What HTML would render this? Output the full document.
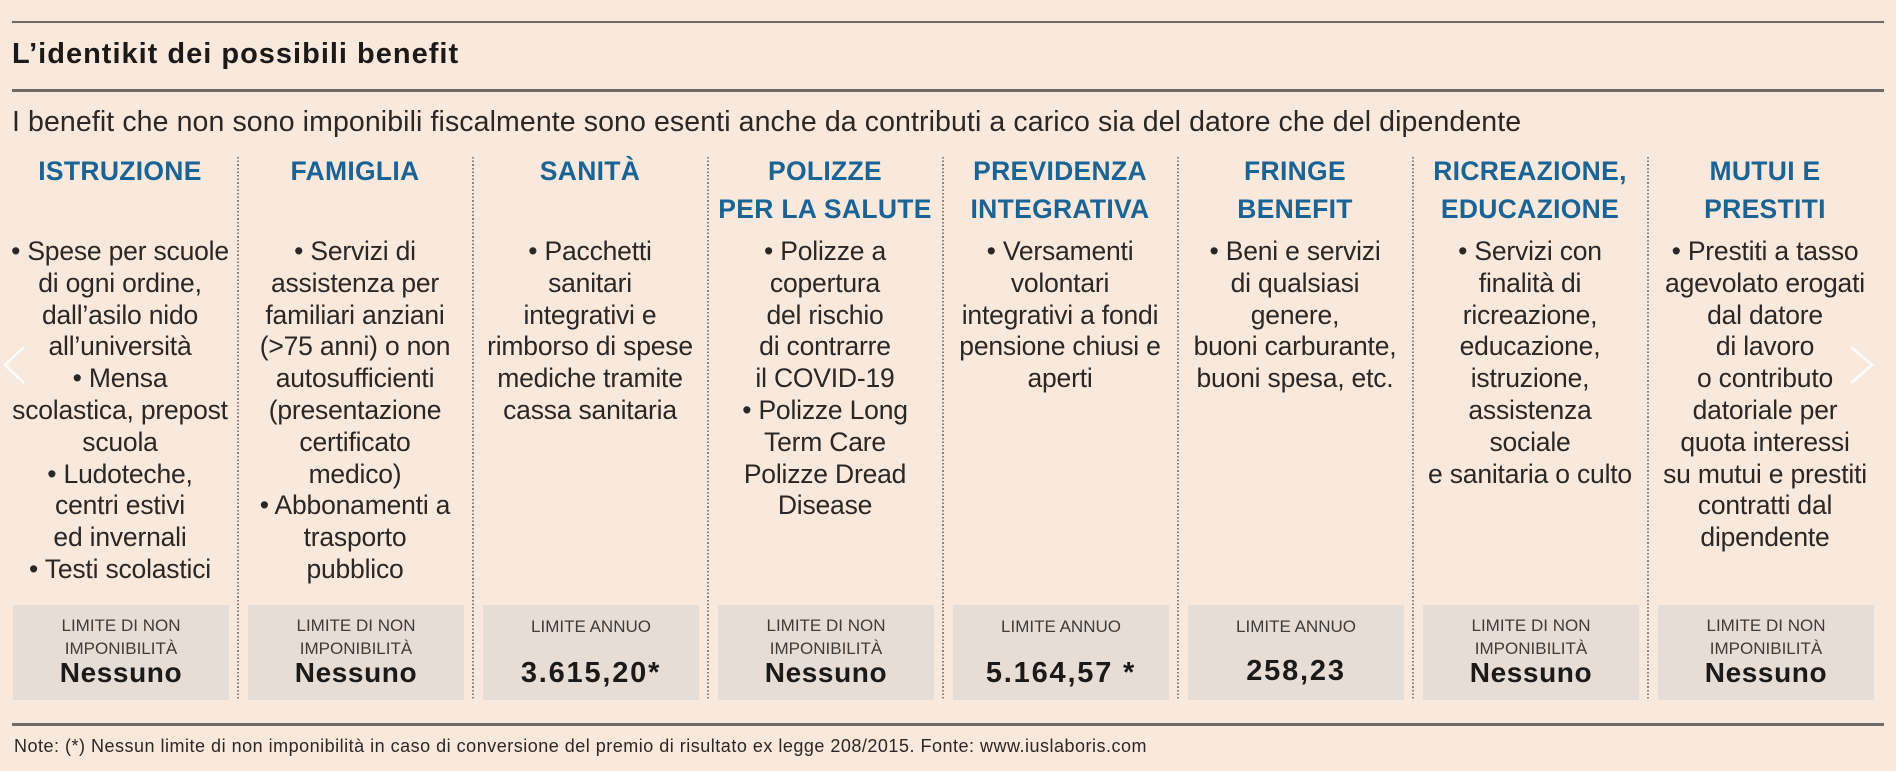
<!DOCTYPE html>
<html>
<head>
<meta charset="utf-8">
<style>
  html, body { margin:0; padding:0; }
  body { width:1896px; height:771px; background:#f9e9dc; position:relative; overflow:hidden;
         font-family:"Liberation Sans", Arial, sans-serif; color:#2a2724; }
  .abs { position:absolute; }
  .rule { position:absolute; left:12px; width:1872px; background:#716a64; }
  .title { position:absolute; left:12px; top:40px; font-size:29px; line-height:1; font-weight:bold; letter-spacing:1px; color:#1c1a19; white-space:nowrap; }
  .sub { position:absolute; left:12px; top:108px; font-size:28.5px; line-height:1; letter-spacing:0.1px; color:#2a2724; white-space:nowrap; }
  .hdr { position:absolute; top:153px; width:280px; text-align:center; font-size:26.5px; line-height:37.5px; font-weight:bold; color:#1a6395; letter-spacing:0.3px; white-space:nowrap; }
  .body { position:absolute; top:236px; width:280px; text-align:center; font-size:26.5px; line-height:31.8px; letter-spacing:-0.2px; color:#2a2724; white-space:nowrap; }
  .div { position:absolute; top:157px; height:543px; width:2px;
         background:repeating-linear-gradient(to bottom, #8a827b 0 1.6px, transparent 1.6px 3.6px); }
  .box { position:absolute; top:605px; height:95px; width:216px; background:#e7ddd7; }
  .lbl { position:absolute; left:0; width:216px; text-align:center; font-size:17px; line-height:1; color:#3f3b38; white-space:nowrap; }
  .val { position:absolute; left:0; width:216px; text-align:center; font-size:28px; line-height:1; font-weight:bold; color:#1c1a19; white-space:nowrap; letter-spacing:0.6px; }
  .num { font-size:29px; letter-spacing:1.8px; }
  .note { position:absolute; left:14px; top:737px; font-size:18px; line-height:1; letter-spacing:0.5px; color:#2a2724; white-space:nowrap; }
</style>
</head>
<body>

<div class="rule" style="top:21px;height:2px;"></div>
<div class="title">L’identikit dei possibili benefit</div>
<div class="rule" style="top:89px;height:2.5px;"></div>
<div class="sub">I benefit che non sono imponibili fiscalmente sono esenti anche da contributi a carico sia del datore che del dipendente</div>

<!-- dividers -->
<div class="div" style="left:237px;"></div>
<div class="div" style="left:472px;"></div>
<div class="div" style="left:707px;"></div>
<div class="div" style="left:942px;"></div>
<div class="div" style="left:1177px;"></div>
<div class="div" style="left:1412px;"></div>
<div class="div" style="left:1647px;"></div>

<!-- headers -->
<div class="hdr" style="left:-20px;">ISTRUZIONE</div>
<div class="hdr" style="left:215px;">FAMIGLIA</div>
<div class="hdr" style="left:450px;">SANITÀ</div>
<div class="hdr" style="left:685px;">POLIZZE<br>PER LA SALUTE</div>
<div class="hdr" style="left:920px;">PREVIDENZA<br>INTEGRATIVA</div>
<div class="hdr" style="left:1155px;">FRINGE<br>BENEFIT</div>
<div class="hdr" style="left:1390px;">RICREAZIONE,<br>EDUCAZIONE</div>
<div class="hdr" style="left:1625px;">MUTUI E<br>PRESTITI</div>

<!-- bodies -->
<div class="body" style="left:-20px;">• Spese per scuole<br>di ogni ordine,<br>dall’asilo nido<br>all’università<br>• Mensa<br>scolastica, prepost<br>scuola<br>• Ludoteche,<br>centri estivi<br>ed invernali<br>• Testi scolastici</div>
<div class="body" style="left:215px;">• Servizi di<br>assistenza per<br>familiari anziani<br>(&gt;75 anni) o non<br>autosufficienti<br>(presentazione<br>certificato<br>medico)<br>• Abbonamenti a<br>trasporto<br>pubblico</div>
<div class="body" style="left:450px;">• Pacchetti<br>sanitari<br>integrativi e<br>rimborso di spese<br>mediche tramite<br>cassa sanitaria</div>
<div class="body" style="left:685px;">• Polizze a<br>copertura<br>del rischio<br>di contrarre<br>il COVID-19<br>• Polizze Long<br>Term Care<br>Polizze Dread<br>Disease</div>
<div class="body" style="left:920px;">• Versamenti<br>volontari<br>integrativi a fondi<br>pensione chiusi e<br>aperti</div>
<div class="body" style="left:1155px;">• Beni e servizi<br>di qualsiasi<br>genere,<br>buoni carburante,<br>buoni spesa, etc.</div>
<div class="body" style="left:1390px;">• Servizi con<br>finalità di<br>ricreazione,<br>educazione,<br>istruzione,<br>assistenza<br>sociale<br>e sanitaria o culto</div>
<div class="body" style="left:1625px;">• Prestiti a tasso<br>agevolato erogati<br>dal datore<br>di lavoro<br>o contributo<br>datoriale per<br>quota interessi<br>su mutui e prestiti<br>contratti dal<br>dipendente</div>

<!-- boxes -->
<div class="box" style="left:13px;">
  <div class="lbl" style="top:12px;">LIMITE DI NON</div>
  <div class="lbl" style="top:35px;">IMPONIBILITÀ</div>
  <div class="val" style="top:54px;">Nessuno</div>
</div>
<div class="box" style="left:248px;">
  <div class="lbl" style="top:12px;">LIMITE DI NON</div>
  <div class="lbl" style="top:35px;">IMPONIBILITÀ</div>
  <div class="val" style="top:54px;">Nessuno</div>
</div>
<div class="box" style="left:483px;">
  <div class="lbl" style="top:13px;">LIMITE ANNUO</div>
  <div class="val num" style="top:53.5px;">3.615,20*</div>
</div>
<div class="box" style="left:718px;">
  <div class="lbl" style="top:12px;">LIMITE DI NON</div>
  <div class="lbl" style="top:35px;">IMPONIBILITÀ</div>
  <div class="val" style="top:54px;">Nessuno</div>
</div>
<div class="box" style="left:953px;">
  <div class="lbl" style="top:13px;">LIMITE ANNUO</div>
  <div class="val num" style="top:53.5px;">5.164,57 *</div>
</div>
<div class="box" style="left:1188px;">
  <div class="lbl" style="top:13px;">LIMITE ANNUO</div>
  <div class="val num" style="top:51.5px;">258,23</div>
</div>
<div class="box" style="left:1423px;">
  <div class="lbl" style="top:12px;">LIMITE DI NON</div>
  <div class="lbl" style="top:35px;">IMPONIBILITÀ</div>
  <div class="val" style="top:54px;">Nessuno</div>
</div>
<div class="box" style="left:1658px;">
  <div class="lbl" style="top:12px;">LIMITE DI NON</div>
  <div class="lbl" style="top:35px;">IMPONIBILITÀ</div>
  <div class="val" style="top:54px;">Nessuno</div>
</div>

<div class="rule" style="top:723px;height:2.5px;"></div>
<div class="note">Note: (*) Nessun limite di non imponibilità in caso di conversione del premio di risultato ex legge 208/2015. Fonte: www.iuslaboris.com</div>

<!-- navigation chevrons -->
<svg class="abs" style="left:0;top:340px;" width="30" height="50">
  <polyline points="24,7 5,25 24,43" fill="none" stroke="#ffffff" stroke-opacity="0.85" stroke-width="2.5"/>
</svg>
<svg class="abs" style="left:1846px;top:340px;" width="32" height="50">
  <polyline points="5,7 26,25 5,43" fill="none" stroke="#ffffff" stroke-opacity="0.85" stroke-width="2.5"/>
</svg>

</body>
</html>
